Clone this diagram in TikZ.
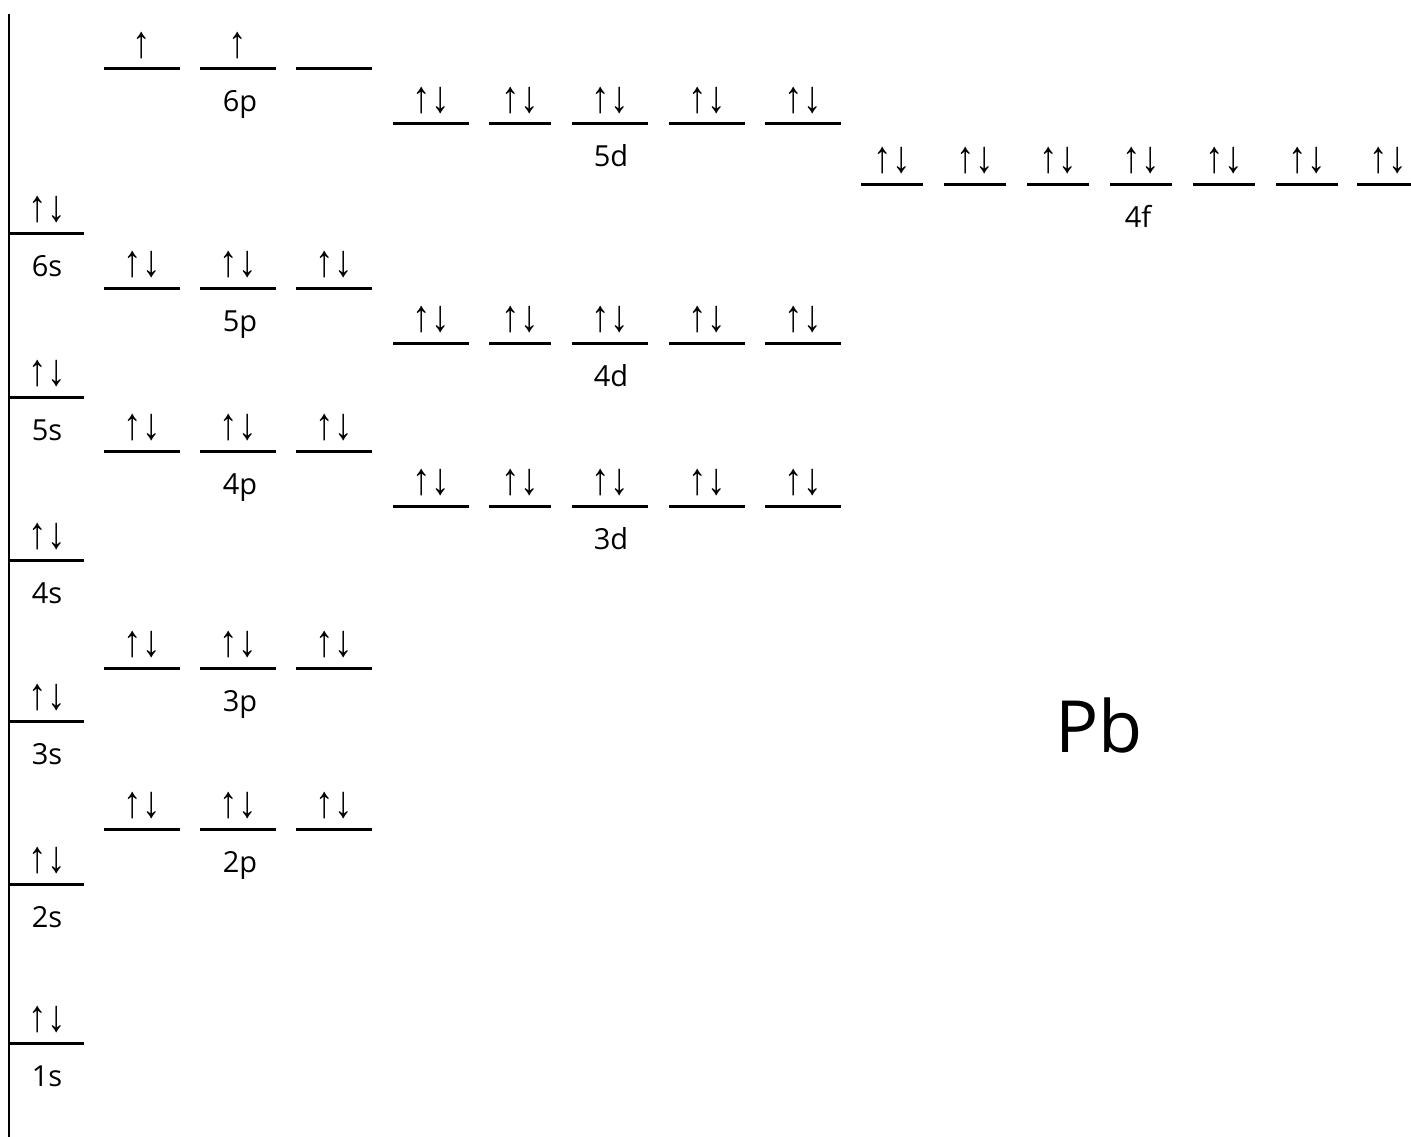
\documentclass[tikz,border=0pt]{standalone}
\usepackage{fontspec}
\setmainfont{Open Sans}
\newfontfamily\arrowfont{Liberation Sans}
\newcommand{\updn}{\scalebox{0.92}[1.12]{↑↓}}
\newcommand{\uponly}{\scalebox{0.92}[1.12]{↑}}
\begin{document}
\begin{tikzpicture}[x=1pt,y=-1pt,
  orb/.style={line width=3pt},
  axisline/.style={line width=2.5pt},
  spin/.style={font=\arrowfont\fontsize{40}{44}\selectfont, inner sep=0pt, anchor=center},
  lbl/.style={font=\fontsize{29}{32}\selectfont, inner sep=0pt, anchor=base},
  big/.style={font=\fontsize{72}{80}\selectfont, inner sep=0pt, anchor=base}
]
\useasboundingbox (0,0) rectangle (1411,1137);
\coordinate (axtop) at (9,14);
\coordinate (axbot) at (9,1137);
\draw[axisline] (axtop) -- (axbot);
% s orbitals
\foreach \n/\y in {6/233,5/397,4/560,3/721,2/884,1/1043}{
  \coordinate (s\n L) at (9,\y);
  \coordinate (s\n R) at (84,\y);
  \draw[orb] (s\n L) -- (s\n R);
  \node[spin] (s\n a) at (47,\y-23) {\updn};
  \node[lbl] (s\n l) at (47,\y+43) {\n s};
}
% p orbitals
\foreach \n/\y in {6/69,5/288,4/451,3/668,2/829}{
  \foreach \i/\xa/\xb in {1/104/180,2/200/276,3/296/372}{
    \coordinate (p\n\i L) at (\xa,\y);
    \coordinate (p\n\i R) at (\xb,\y);
    \draw[orb] (p\n\i L) -- (p\n\i R);
  }
  \node[lbl] (p\n l) at (240,\y+43) {\n p};
}
\foreach \n/\y in {5/288,4/451,3/668,2/829}{
  \foreach \i/\xc in {1/142,2/238,3/334}{
    \node[spin] (p\n\i a) at (\xc,\y-23) {\updn};
  }
}
\node[spin] (p61a) at (142,46) {\uponly};
\node[spin] (p62a) at (238,46) {\uponly};
% d orbitals
\foreach \n/\y in {5/124,4/343,3/506}{
  \foreach \i/\xa/\xb in {1/393/469,2/489/551,3/572/648,4/669/745,5/765/841}{
    \coordinate (d\n\i L) at (\xa,\y);
    \coordinate (d\n\i R) at (\xb,\y);
    \draw[orb] (d\n\i L) -- (d\n\i R);
    \node[spin] (d\n\i a) at ({(\xa+\xb)/2},\y-23) {\updn};
  }
  \node[lbl] (d\n l) at (611,\y+43) {\n d};
}
% 4f orbitals
\foreach \i/\xa/\xb/\xc in {1/861/923/892,2/944/1006/975,3/1027/1089/1058,4/1110/1172/1141,5/1193/1255/1224,6/1276/1338/1307,7/1357/1419/1388}{
  \coordinate (f\i L) at (\xa,184);
  \coordinate (f\i R) at (\xb,184);
  \draw[orb] (f\i L) -- (f\i R);
  \node[spin] (f\i a) at (\xc,161) {\updn};
}
\node[lbl] (f4l) at (1138,227) {4f};
\node[big] (pb) at (1099,752) {Pb};
\end{tikzpicture}
\end{document}
